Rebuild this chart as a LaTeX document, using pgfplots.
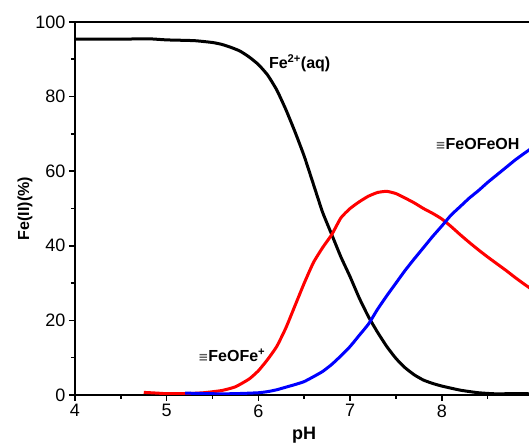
\documentclass[border=0pt]{standalone}
\usepackage{pgfplots}
\pgfplotsset{compat=1.18}
\usepackage{fontspec}
\setmainfont{Liberation Sans}
\newfontfamily\symfont{DejaVu Sans}
\newcommand{\tb}{{\symfont\fontsize{12}{12}\selectfont\color{black!65}≡}}

\begin{document}
\begin{tikzpicture}
\begin{axis}[
    scale only axis,
    width=458.5pt, height=373pt,
    xmin=4, xmax=9, ymin=0, ymax=100,
    axis x line=box, axis y line=left,
    axis line style={-, line width=2pt},
    xtick={4,5,6,7,8,9}, ytick={0,20,40,60,80,100},
    minor x tick num=1, minor y tick num=1,
    xtick pos=bottom, ytick pos=left,
    tick align=outside,
    major tick length=6pt, minor tick length=4pt,
    every tick/.style={line width=1.6pt, black},
    tick label style={font=\fontsize{18}{20}\selectfont},
    /pgf/number format/assume math mode=true,
    xlabel={\textbf{pH}}, ylabel={\textbf{Fe(II)(\%)}},
    xlabel style={font=\fontsize{18}{20}\selectfont, yshift=-3pt},
    ylabel style={font=\fontsize{16}{18}\selectfont, yshift=-4pt},
    every axis plot/.append style={line width=3pt, smooth, tension=0.3},
]
\addplot[black] coordinates {
(4.0,95.4) (4.5,95.4) (4.8,95.5) (5.0,95.2) (5.3,95.0) (5.5,94.5) (5.6,94.0)
(5.7,93.2) (5.8,92.2) (5.9,90.6) (6.0,88.6) (6.1,85.8) (6.2,81.8) (6.3,76.5)
(6.4,70.5) (6.5,64) (6.6,56.5) (6.7,49) (6.8,43) (6.9,37) (7.0,31.7) (7.1,26)
(7.2,21) (7.3,16.8) (7.4,13) (7.5,9.8) (7.6,7.3) (7.7,5.4) (7.8,4.0) (7.9,3.1)
(8.0,2.4) (8.2,1.3) (8.4,0.6) (8.6,0.3) (8.8,0.4) (9.0,0.3)
};
\addplot[red] coordinates {
(4.75,0.7) (4.9,0.5) (5.0,0.35) (5.2,0.35) (5.4,0.6) (5.6,1.2) (5.75,2.2)
(5.9,4.3) (6.0,6.5) (6.1,9.5) (6.2,13) (6.3,18) (6.4,24) (6.5,30) (6.6,35.5)
(6.7,39.5) (6.8,43) (6.9,47.5) (7.0,50) (7.1,51.8) (7.2,53.3) (7.3,54.3)
(7.4,54.6) (7.5,54) (7.6,52.8) (7.7,51.5) (7.8,50) (7.9,48.7) (8.0,47.2)
(8.1,45.2) (8.2,43) (8.3,40.9) (8.4,38.9) (8.5,37) (8.6,35.2) (8.7,33.4)
(8.8,31.5) (8.9,29.7) (9.0,28)
};
\addplot[blue] coordinates {
(5.2,0.5) (5.4,0.4) (5.6,0.3) (5.8,0.4) (6.0,0.6) (6.1,0.9) (6.2,1.4) (6.3,2.1)
(6.4,2.8) (6.5,3.6) (6.6,4.9) (6.7,6.3) (6.8,8.2) (6.9,10.5) (7.0,13) (7.1,16)
(7.2,19) (7.3,23) (7.4,26.6) (7.5,30) (7.6,33.4) (7.7,36.5) (7.8,39.5)
(7.9,42.5) (8.0,45.3) (8.1,48.2) (8.2,50.5) (8.3,52.8) (8.4,54.8) (8.5,57)
(8.6,59) (8.7,61) (8.8,63) (8.9,64.8) (9.0,66.5)
};
\node[font=\fontsize{16}{18}\selectfont\bfseries] at (axis cs:6.45,89) {Fe\textsuperscript{2+}(aq)};
\node[font=\fontsize{16}{18}\selectfont\bfseries] at (axis cs:5.71,10.7) {\tb FeOFe\textsuperscript{+}};
\node[font=\fontsize{16}{18}\selectfont\bfseries] at (axis cs:8.39,67.3) {\tb FeOFeOH};
\coordinate (ll) at (rel axis cs:0,0);
\coordinate (ur) at (rel axis cs:0.9902,1);
\end{axis}
\pgfresetboundingbox
\useasboundingbox ([shift={(-75pt,-52pt)}]ll) rectangle ([shift={(0pt,22pt)}]ur);
\end{tikzpicture}
\end{document}
